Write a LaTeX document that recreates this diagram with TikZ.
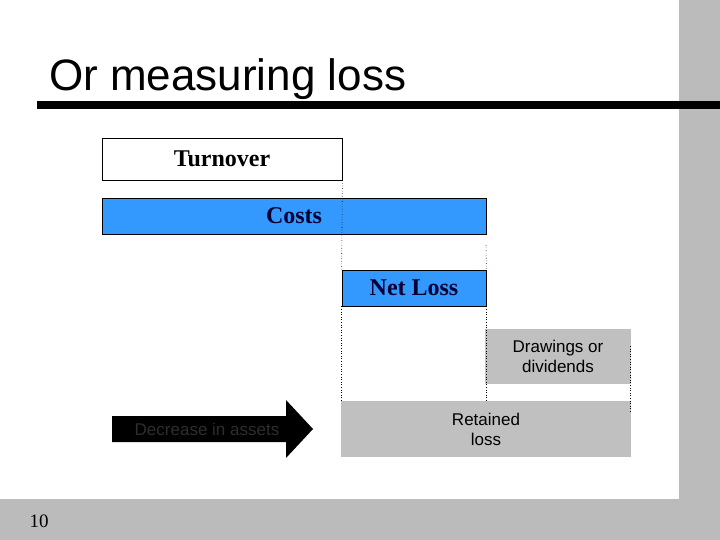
\documentclass[tikz,border=0pt]{standalone}
\usepackage{fontspec}
\setmainfont{Liberation Serif}
\newfontfamily\arialfont{Liberation Sans}
\definecolor{costblue}{HTML}{3399FF}
\definecolor{navytext}{HTML}{000033}
\definecolor{boxgrey}{HTML}{C0C0C0}
\definecolor{stripgrey}{HTML}{BBBBBB}
\begin{document}
\begin{tikzpicture}[x=1pt,y=-1pt,
    box/.style={draw=black,line width=0.8pt,inner sep=0pt,
        font=\fontsize{24}{26}\selectfont\bfseries},
    bluebox/.style={box,fill=costblue,text=navytext},
    greybox/.style={inner sep=0pt,fill=boxgrey,align=center,
        font=\arialfont\fontsize{17}{20}\selectfont},
    guide/.style={dotted,line width=0.6pt}]
    \useasboundingbox (0,0) rectangle (720,540);
    % slide frame
    \fill[stripgrey] (679,0) rectangle (720,540);
    \fill[stripgrey] (0,499) rectangle (720,540);
    \fill[black] (37,101) rectangle (720,109);
    \node[anchor=base west,inner sep=0pt,font=\arialfont\fontsize{44}{44}\selectfont]
        (title) at (49,91) {Or measuring loss};
    \node[font=\fontsize{19}{19}\selectfont] (pagenum) at (39,521) {10};
    % bars
    \node[box,fill=white,minimum width=240pt,minimum height=42pt] (turnover) at (222,159) {Turnover};
    \node[bluebox,minimum width=384pt,minimum height=36pt] (costs) at (294,216) {Costs};
    \node[bluebox,minimum width=144pt,minimum height=36pt] (netloss) at (414,288) {Net Loss};
    \node[greybox,minimum width=146pt,minimum height=55pt] (drawings) at (558,356.5) {Drawings or\\dividends};
    \node[greybox,minimum width=290pt,minimum height=56pt] (retained) at (486,429) {Retained\\loss};
    % arrow
    \fill[black] (112,416) -- (286,416) -- (286,400) -- (313,429)
        -- (286,458) -- (286,442) -- (112,442) -- cycle;
    \node[text=black!82,font=\arialfont\fontsize{17}{17}\selectfont] (decrease) at (207,429) {Decrease in assets};
    % guide lines
    \coordinate (guidetop) at (486,245);
    \coordinate (drawtop) at (630,346);
    \coordinate (drawbot) at (630,413);
    \draw[guide] (turnover.south east) -- (netloss.north west);
    \draw[guide] (netloss.south west) -- (netloss.south west |- retained.north);
    \draw[guide] (guidetop) -- (netloss.north east);
    \draw[guide] (netloss.south east) -- (netloss.south east |- retained.north);
    \draw[guide] (drawtop) -- (drawbot);
\end{tikzpicture}
\end{document}
